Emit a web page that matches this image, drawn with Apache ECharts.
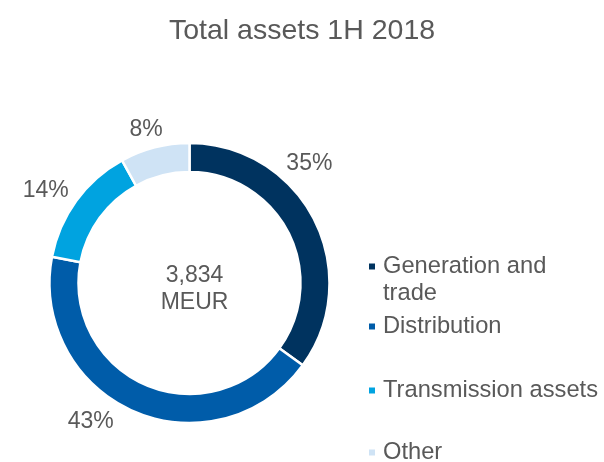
<!DOCTYPE html>
<html>
<head>
<meta charset="utf-8">
<script src="https://cdn.jsdelivr.net/npm/echarts@6/dist/echarts.min.js"></script>
<style>html,body{margin:0;padding:0;background:#fff}#c{width:604px;height:462px}</style>
</head>
<body>
<div id="c"></div>
<script>
const categories = ['Generation and trade', 'Distribution', 'Transmission assets', 'Other'];
const shares = [35, 43, 14, 8];
const colors = ['#00335F', '#005CA9', '#00A3E0', '#CFE3F5'];
const totalValue = '3,834';
const totalUnit = 'MEUR';
const titleText = 'Total assets 1H 2018';
const labelNudges = [[-40, -52], [-12, 3], [4, -5], [15, -10]];

const font = '"Liberation Sans", Arial, sans-serif';
const txt = '#595959';
const legendTops = [226, 313, 377, 439];

const chart = echarts.init(document.getElementById('c'));
chart.setOption({
  animation: false,
  title: [
    { text: titleText, left: 'center', top: 12, textStyle: { fontFamily: font, fontSize: 28.5, fontWeight: 'normal', color: txt } },
    { text: totalValue + '\n' + totalUnit, left: 189.5, top: 284, textAlign: 'center', textVerticalAlign: 'middle',
      textStyle: { fontFamily: font, fontSize: 23, lineHeight: 27, fontWeight: 'normal', color: txt } }
  ],
  legend: categories.map((c, i) => ({
    data: [c], orient: 'vertical', left: 367, top: legendTops[i], padding: 0,
    icon: 'rect', itemWidth: 8, itemHeight: 8, selectedMode: false,
    formatter: n => n === 'Generation and trade' ? ' \nGeneration and\ntrade' : n,
    textStyle: { fontFamily: font, fontSize: 23.7, lineHeight: 27, color: txt, padding: [0, 0, 0, 2] }
  })),
  series: [{
    type: 'pie', center: [189.5, 283], radius: [111, 140], startAngle: 90, clockwise: true,
    itemStyle: { borderColor: '#fff', borderWidth: 2.5 },
    label: { show: true, position: 'outside', formatter: '{c}%', fontFamily: font, fontSize: 23, color: txt },
    labelLine: { show: false, length: 8, length2: 0 },
    labelLayout: p => ({ dx: labelNudges[p.dataIndex][0], dy: labelNudges[p.dataIndex][1] }),
    data: categories.map((c, i) => ({ name: c, value: shares[i], itemStyle: { color: colors[i] } }))
  }]
});
</script>
</body>
</html>
